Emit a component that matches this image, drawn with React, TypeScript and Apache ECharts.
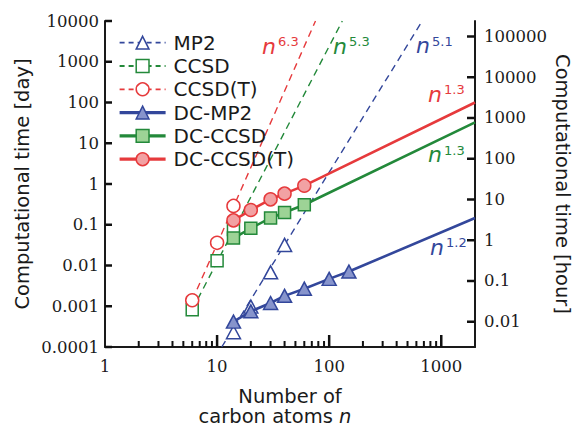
import { useEffect, useRef } from 'react';
import * as echarts from 'echarts';

// ---- data (n = number of carbon atoms, time in days) ----
const mp2N = [14, 20, 30, 40];
const mp2T = [0.00023, 0.00098, 0.0068, 0.032];
const ccsdN = [6, 10, 14];
const ccsdT = [0.00082, 0.013, 0.077];
const ccsdtN = [6, 10, 14];
const ccsdtT = [0.0014, 0.036, 0.29];
const dcMp2N = [14, 20, 30, 40, 60, 100, 150];
const dcMp2T = [0.00042, 0.00075, 0.0012, 0.0018, 0.0027, 0.0047, 0.0071];
const dcCcsdN = [14, 20, 30, 40, 60];
const dcCcsdT = [0.047, 0.082, 0.147, 0.2, 0.31];
const dcCcsdtN = [14, 20, 30, 40, 60];
const dcCcsdtT = [0.128, 0.23, 0.42, 0.58, 0.91];

// fitted scaling lines (end points)
const mp2FitN = [11, 676];
const mp2FitT = [0.0001, 10000];
const ccsdFitN = [6, 131];
const ccsdFitT = [0.00082, 10000];
const ccsdtFitN = [6, 75.5];
const ccsdtFitT = [0.0014, 10000];
const dcMp2ExtN = 2000;
const dcMp2ExtT = 0.147;
const dcCcsdExtN = 2000;
const dcCcsdExtT = 32.5;
const dcCcsdtExtN = 2000;
const dcCcsdtExtT = 100;

// axes
const X_MIN = 1;
const X_MAX = 2000;
const xMajorTicks = [10, 100, 1000];
const xMinorTicks = [2, 3, 4, 5, 6, 7, 8, 9, 20, 30, 40, 50, 60, 70, 80, 90, 200, 300, 400, 500, 600, 700, 800, 900];
const dayTicks = [0.0001, 0.001, 0.01, 0.1, 1, 10, 100, 1000, 10000];
const hourTicks = [0.01, 0.1, 1, 10, 100, 1000, 10000, 100000];
const HOURS_PER_DAY = 24;

// scaling exponents labels
const expLabels = [
  { text: '6.3', color: 'red' },
  { text: '5.3', color: 'green' },
  { text: '5.1', color: 'blue' },
  { text: '1.3', color: 'red' },
  { text: '1.3', color: 'green' },
  { text: '1.2', color: 'blue' },
];
const expPos = [
  [262, 46.4, 278, 41],
  [333, 46.4, 349, 41],
  [416, 45.5, 432, 41],
  [428, 94.4, 444, 89.5],
  [428, 154.4, 444, 150],
  [430, 247.4, 446, 242.5],
];

const BLUE = '#33479b';
const BLUE_FILL = '#8794cc';
const GREEN = '#23893a';
const GREEN_FILL = '#9dd396';
const RED = '#e63a3c';
const RED_FILL = '#f2a1a3';
const COLORS: Record<string, string> = { red: RED, green: GREEN, blue: BLUE };
const INK = '#1a1a1a';
const TICK = '#111111';
const SERIF = 'DejaVu Serif';
const SANS = 'DejaVu Sans';

const zip = (a: number[], b: number[]) => a.map((v, i) => [v, b[i]]);

const fmtPow = (v: number) => {
  const l = Math.log10(v);
  const e = Math.round(l);
  if (Math.abs(l - e) > 1e-6) return '';
  return e >= 0 ? String(Math.pow(10, e)) : '0.' + '0'.repeat(-e - 1) + '1';
};

const dash = [7, 5];

function fitSeries(name: string, n: number[], t: number[], color: string) {
  return {
    type: 'line', name, data: zip(n, t), symbol: 'none', silent: true, z: 1,
    lineStyle: { color, width: 1.4, type: dash },
  };
}

function openSeries(name: string, n: number[], t: number[], color: string, symbol: string, size: any) {
  return {
    type: 'line', name, data: zip(n, t), symbol, symbolSize: size, z: 2,
    itemStyle: { color: '#ffffff', borderColor: color, borderWidth: 1.5 },
    lineStyle: { color, width: 1.4, type: dash, opacity: 0 },
  };
}

function dcSeries(name: string, n: number[], t: number[], extN: number, extT: number, color: string, fill: string, symbol: string, size: any) {
  return {
    type: 'line', name, symbol, symbolSize: size, z: 3,
    data: [...zip(n, t), { value: [extN, extT], symbol: 'none' }],
    itemStyle: { color: fill, borderColor: color, borderWidth: 1.5 },
    lineStyle: { color, width: 2.6 },
  };
}

// tick marks (pointing into the plot) drawn through the axes' own scales
function tickSeries(values: number[], yAxisIndex: number, atX: number, atY: number, len: number, dir: string, width: number, color: string) {
  const vertical = dir === 'up';
  return {
    type: 'custom', xAxisIndex: 0, yAxisIndex, silent: true, z: 6, clip: false,
    data: values.map((v) => (vertical ? [v, atY] : [atX, v])),
    renderItem: (_p: any, api: any) => {
      const p = api.coord([api.value(0), api.value(1)]);
      const shape = vertical
        ? { x1: p[0], y1: p[1], x2: p[0], y2: p[1] - len }
        : { x1: p[0], y1: p[1], x2: p[0] + (dir === 'right' ? len : -len), y2: p[1] };
      return { type: 'line', shape, style: { stroke: color, lineWidth: width } };
    },
  };
}

const TRI = [14, 13];

const graphics: any[] = [];
expLabels.forEach((l, i) => {
  const p = expPos[i];
  const c = COLORS[l.color];
  graphics.push({
    type: 'text', x: p[0], y: p[1], silent: true,
    style: { text: 'n', fill: c, font: `italic 22px "${SANS}"`, verticalAlign: 'middle', align: 'left' },
  });
  graphics.push({
    type: 'text', x: p[2], y: p[3], silent: true,
    style: { text: l.text, fill: c, font: `13px "${SANS}"`, verticalAlign: 'middle', align: 'left' },
  });
});

const axisLine = { show: true, lineStyle: { color: INK, width: 2 } };
const titleRich = { fontFamily: SANS, fontSize: 19.5, color: INK, lineHeight: 20 };

const option: any = {
  animation: false,
  backgroundColor: '#ffffff',
  grid: { left: 105, right: 99, top: 21, bottom: 79, containLabel: false, outerBoundsMode: 'none' },
  legend: {
    orient: 'vertical', left: 118, top: 32.7, padding: 0,
    itemWidth: 46, itemHeight: 16, itemGap: 3.3, selectedMode: false,
    textStyle: { fontFamily: SANS, fontSize: 20, color: INK, lineHeight: 20, padding: [0, 0, 0, 3] },
    data: [
      { name: 'MP2', lineStyle: { color: BLUE, width: 1.8, type: [5, 4], opacity: 1 }, itemStyle: { borderWidth: 1.5 } },
      { name: 'CCSD', lineStyle: { color: GREEN, width: 1.8, type: [5, 4], opacity: 1 }, itemStyle: { borderWidth: 1.5 } },
      { name: 'CCSD(T)', lineStyle: { color: RED, width: 1.8, type: [5, 4], opacity: 1 }, itemStyle: { borderWidth: 1.5 } },
      { name: 'DC-MP2', lineStyle: { color: BLUE, width: 3.2, opacity: 1 }, itemStyle: { borderWidth: 1.5 } },
      { name: 'DC-CCSD', lineStyle: { color: GREEN, width: 3.2, opacity: 1 }, itemStyle: { borderWidth: 1.5 } },
      { name: 'DC-CCSD(T)', lineStyle: { color: RED, width: 3.2, opacity: 1 }, itemStyle: { borderWidth: 1.5 } },
    ],
  },
  xAxis: [
    {
      type: 'log', logBase: 10, min: X_MIN, max: X_MAX, position: 'bottom',
      name: '{a|Number of}\n{a|carbon atoms }{i|n}{p|}', nameLocation: 'middle', nameGap: 39, nameMoveOverlap: false,
      nameTextStyle: {
        ...titleRich,
        rich: {
          a: { ...titleRich },
          i: { ...titleRich, fontStyle: 'italic' },
          p: { ...titleRich, width: 30 },
        },
      },
      axisLine,
      axisTick: { show: false },
      axisLabel: { show: true, formatter: fmtPow, margin: 11, fontFamily: SERIF, fontSize: 16.5, color: INK },
      splitLine: { show: false },
      minorTick: { show: false },
    },
  ],
  yAxis: [
    {
      type: 'log', logBase: 10, min: dayTicks[0], max: dayTicks[dayTicks.length - 1], position: 'left',
      name: 'Computational time [day]', nameLocation: 'middle', nameRotate: 90, nameGap: 73, nameMoveOverlap: false,
      nameTextStyle: { fontFamily: SANS, fontSize: 19.5, color: INK },
      axisLine,
      axisTick: { show: false },
      axisLabel: { show: true, formatter: fmtPow, margin: 6, fontFamily: SERIF, fontSize: 16.5, color: INK },
      splitLine: { show: false },
    },
    {
      type: 'log', logBase: 10,
      min: dayTicks[0] * HOURS_PER_DAY, max: dayTicks[dayTicks.length - 1] * HOURS_PER_DAY, position: 'right',
      name: 'Computational time [hour]', nameLocation: 'middle', nameRotate: -90, nameGap: 77, nameMoveOverlap: false,
      nameTextStyle: { fontFamily: SANS, fontSize: 19.5, color: INK },
      axisLine,
      axisTick: { show: false },
      axisLabel: { show: true, formatter: fmtPow, margin: 9, fontFamily: SERIF, fontSize: 16.5, color: INK },
      splitLine: { show: false },
    },
  ],
  series: [
    fitSeries('MP2 fit', mp2FitN, mp2FitT, BLUE),
    fitSeries('CCSD fit', ccsdFitN, ccsdFitT, GREEN),
    fitSeries('CCSD(T) fit', ccsdtFitN, ccsdtFitT, RED),
    openSeries('MP2', mp2N, mp2T, BLUE, 'triangle', TRI),
    openSeries('CCSD', ccsdN, ccsdT, GREEN, 'rect', 12),
    openSeries('CCSD(T)', ccsdtN, ccsdtT, RED, 'circle', 13),
    dcSeries('DC-MP2', dcMp2N, dcMp2T, dcMp2ExtN, dcMp2ExtT, BLUE, BLUE_FILL, 'triangle', TRI),
    dcSeries('DC-CCSD', dcCcsdN, dcCcsdT, dcCcsdExtN, dcCcsdExtT, GREEN, GREEN_FILL, 'rect', 12),
    dcSeries('DC-CCSD(T)', dcCcsdtN, dcCcsdtT, dcCcsdtExtN, dcCcsdtExtT, RED, RED_FILL, 'circle', 13),
    tickSeries(xMajorTicks, 0, X_MAX, dayTicks[0], 12, 'up', 2.5, TICK),
    tickSeries(xMinorTicks, 0, X_MAX, dayTicks[0], 6, 'up', 2, TICK),
    tickSeries(dayTicks, 0, X_MIN, 1, 7, 'right', 2.5, TICK),
    tickSeries(hourTicks, 1, X_MAX, 1, 8, 'left', 2.5, TICK),
  ],
  graphic: graphics,
};

export default function App() {
  const ref = useRef<HTMLDivElement>(null);
  useEffect(() => {
    const chart = echarts.init(ref.current!, null, { renderer: 'svg' });
    chart.setOption(option);
    return () => chart.dispose();
  }, []);
  return (
    <div
      ref={ref}
      style={{ position: 'fixed', left: 0, top: 0, width: 574, height: 426, background: '#ffffff' }}
    />
  );
}
